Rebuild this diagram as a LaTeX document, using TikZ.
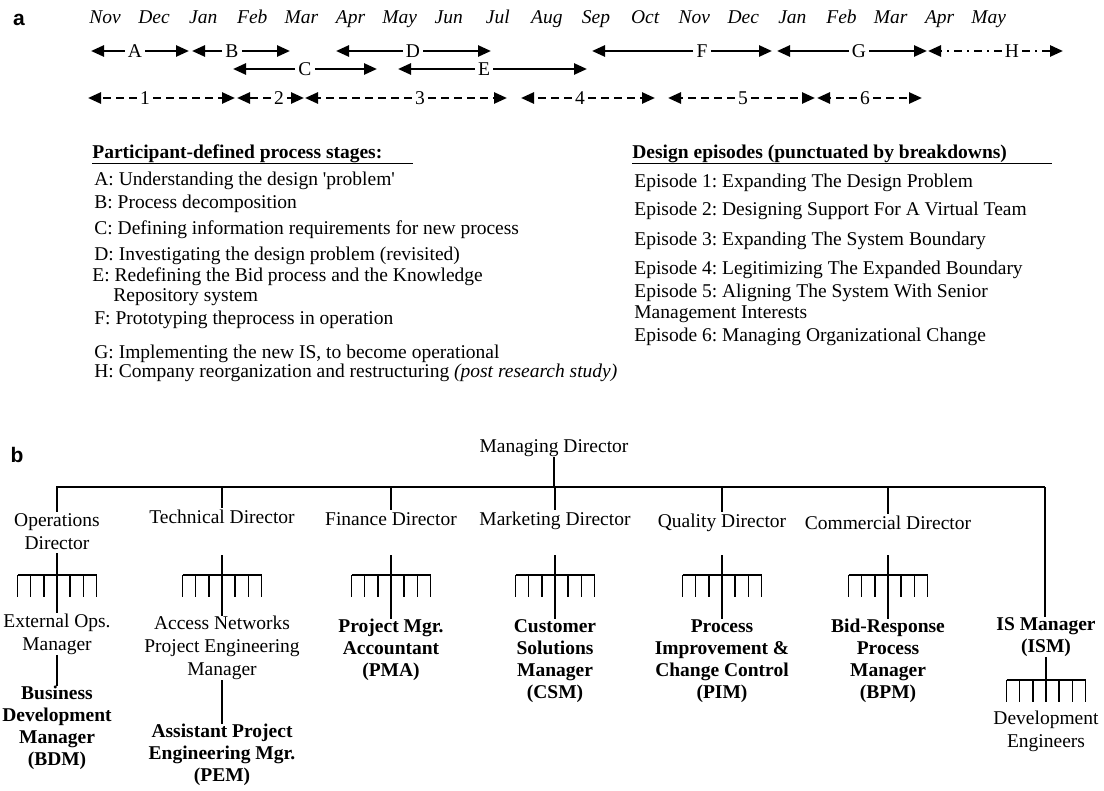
\documentclass[tikz,border=0pt]{standalone}
\usepackage{fontspec}
\setmainfont{Liberation Serif}
\newfontfamily\panelfont{Liberation Sans}
\usepackage{tikz}
\usetikzlibrary{arrows.meta,positioning}

\tikzset{
  orgline/.style={line width=0.7pt},
  rake/.pic={
    \draw[orgline] (-39.5,0) -- (39.5,0);
    \foreach \t in {-3,...,3} \draw[orgline] (\t*13.17,0) -- (\t*13.17,22);
  }
}

\begin{document}
\frenchspacing
\fontsize{9.75}{11.5}\selectfont
\begin{tikzpicture}[>={Triangle[length=6.5pt,width=5.5pt]},x=0.5pt,y=-0.5pt,
  every node/.style={inner sep=0pt},
  month/.style={anchor=base,font=\itshape},
  stg/.style={inner sep=1.5pt},
  stage/.style={->,line width=1.3pt},
  epi/.style={->,line width=1.3pt,dash pattern=on 4pt off 2.5pt},
  reorg/.style={->,line width=1.3pt,dash pattern=on 4pt off 2.5pt on 1pt off 2.5pt},
  head/.style={anchor=base west,font=\bfseries},
  item/.style={anchor=base west},
  panel/.style={font=\panelfont\bfseries\fontsize{10.5}{12}\selectfont},
  dir/.style={align=center},
  mgr/.style={align=center},
  key/.style={align=center,font=\bfseries\fontsize{9.75}{11}\selectfont}]
  \useasboundingbox (0,0) rectangle (1104,791);

  % panel a: time line
  \node[panel] (pa) at (19,20) {a};
  \foreach \m [count=\i from 0] in {Nov,Dec,Jan,Feb,Mar,Apr,May,Jun,Jul,Aug,Sep,Oct,Nov,Dec,Jan,Feb,Mar,Apr,May}
    \node[month] (mon\i) at (105+49.1*\i,23.5) {\m};

  % process stages A--G
  \foreach \s/\lx/\cx/\rx/\ry in {A/91/135/189/51,B/192/232/290/51,C/233/305/377/69,D/336/413/491/51,
      E/398/484/587/69,F/592/702/772/51,G/777/859/927/51}{
    \node[stg] (st\s) at (\cx,\ry) {\s};
    \coordinate (st\s-l) at (\lx,\ry);
    \coordinate (st\s-r) at (\rx,\ry);
    \draw[stage] (st\s) -- (st\s-l);
    \draw[stage] (st\s) -- (st\s-r);
  }
  % stage H (after the study)
  \node[stg] (stH) at (1012,51) {H};
  \coordinate (stH-l) at (928,51);
  \coordinate (stH-r) at (1063,51);
  \draw[reorg] (stH) -- (stH-l);
  \draw[reorg] (stH) -- (stH-r);

  % design episodes 1--6
  \foreach \s/\lx/\cx/\rx in {1/88/145/235,2/237/279/304,3/305/420/507,4/521/580/655,5/668/743/815,6/817/865/922}{
    \node[stg] (ep\s) at (\cx,98) {\s};
    \coordinate (ep\s-l) at (\lx,98);
    \coordinate (ep\s-r) at (\rx,98);
    \draw[epi] (ep\s) -- (ep\s-l);
    \draw[epi] (ep\s) -- (ep\s-r);
  }

  % legend: stages
  \node[head] (stHead) at (92,159) {Participant-defined process stages:};
  \draw (92,163) -- (413,163);
  \node[item] (lgA) at (94,186) {A: Understanding the design \textquotesingle problem\textquotesingle};
  \node[item] (lgB) at (94,209) {B: Process decomposition};
  \node[item] (lgC) at (94,235) {C: Defining information requirements for new process};
  \node[item] (lgD) at (94,261) {D: Investigating the design problem (revisited)};
  \node[item] (lgE) at (92,282) {E: Redefining the Bid process and the Knowledge};
  \node[item] (lgE2) at (113,302) {Repository system};
  \node[item] (lgF) at (94,325) {F: Prototyping theprocess in operation};
  \node[item] (lgG) at (94,358) {G: Implementing the new IS, to become operational};
  \node[item] (lgH) at (94,378) {H: Company reorganization and restructuring \textit{(post research study)}};

  % legend: episodes
  \node[head] (epHead) at (632,159) {Design episodes (punctuated by breakdowns)};
  \draw (632,163) -- (1052,163);
  \node[item] (lg1) at (634,188) {Episode 1: Expanding The Design Problem};
  \node[item] (lg2) at (634,216) {Episode 2: Designing Support For A Virtual Team};
  \node[item] (lg3) at (634,246) {Episode 3: Expanding The System Boundary};
  \node[item] (lg4) at (634,275) {Episode 4: Legitimizing The Expanded Boundary};
  \node[item] (lg5) at (634,298) {Episode 5: Aligning The System With Senior};
  \node[item] (lg5b) at (634,319) {Management Interests};
  \node[item] (lg6) at (634,342) {Episode 6: Managing Organizational Change};

  % panel b: organisation chart
  \node[panel] (pb) at (17,455) {b};
  \node (md) at (554,448) {Managing Director};
  \coordinate (busL) at (56,487);
  \coordinate (busR) at (1045,487);
  \draw[orgline] (busL) -- (busR);
  \draw[orgline] (md) -- (md |- busL);

  % directors
  \node[dir] (dOps) at (57,532) {Operations\\Director};
  \node[dir] (dTech) at (222,517) {Technical Director};
  \node[dir] (dFin) at (391,519) {Finance Director};
  \node[dir] (dMkt) at (555,521) {Marketing Director};
  \node[dir] (dQual) at (722,523) {Quality Director};
  \node[dir] (dCom) at (888,523) {Commercial Director};
  \foreach \d in {dOps,dTech,dFin,dMkt,dQual,dCom}
    \draw[orgline] (\d.north |- busL) -- ([yshift=1pt]\d.north);

  % teams under each director
  \foreach \x in {57,222,391,555,722,888}
    \pic at (\x,575) {rake};
  \coordinate (kOps) at (57,553);
  \coordinate (kTech) at (222,555);
  \coordinate (kFin) at (391,555);
  \coordinate (kMkt) at (555,555);
  \coordinate (kQual) at (722,555);
  \coordinate (kCom) at (888,555);

  \node[mgr] (mOps) at (57,634) {External Ops.\\Manager};
  \node[key] (kBDM) at (57,728) {Business\\Development\\Manager\\(BDM)};
  \node[mgr] (mTech) at (222,648) {Access Networks\\Project Engineering\\Manager};
  \node[key] (kPEM) at (222,755) {Assistant Project\\Engineering Mgr.\\(PEM)};
  \node[key] (kPMA) at (391,650) {Project Mgr.\\Accountant\\(PMA)};
  \node[key] (kCSM) at (555,661) {Customer\\Solutions\\Manager\\(CSM)};
  \node[key] (kPIM) at (722,661) {Process\\Improvement \&\\Change Control\\(PIM)};
  \node[key] (kBPM) at (888,661) {Bid-Response\\Process\\Manager\\(BPM)};
  \draw[orgline] (kOps) -- (mOps);
  \draw[orgline] (mOps) -- (kBDM);
  \draw[orgline] (kTech) -- (mTech);
  \draw[orgline] (mTech) -- (kPEM);
  \draw[orgline] (kFin) -- (kPMA);
  \draw[orgline] (kMkt) -- (kCSM);
  \draw[orgline] (kQual) -- (kPIM);
  \draw[orgline] (kCom) -- (kBPM);

  % IS branch
  \node[key] (kISM) at (1046,637) {IS Manager\\(ISM)};
  \draw[orgline] (busR) -- (busR |- kISM.north);
  \pic at (1046,680) {rake};
  \coordinate (kDev) at (1046,702);
  \draw[orgline] (kISM) -- (kDev);
  \node[mgr] (mDev) at (1046,731) {Development\\Engineers};
\end{tikzpicture}
\end{document}
